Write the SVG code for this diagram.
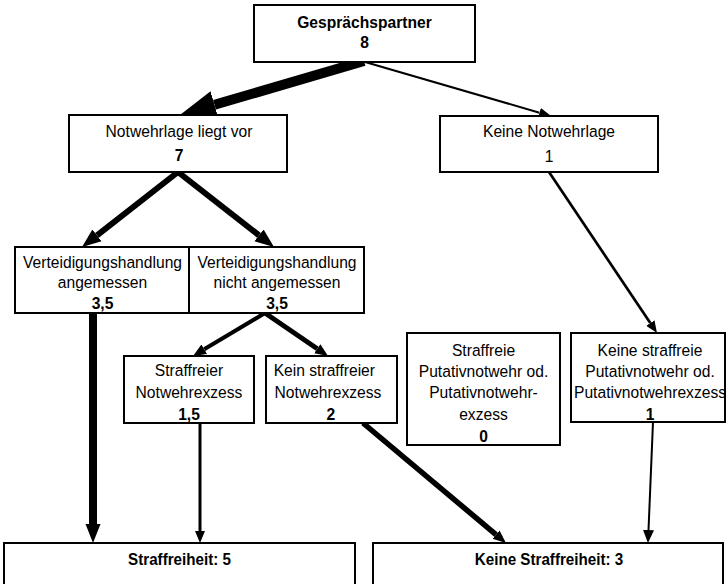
<svg xmlns="http://www.w3.org/2000/svg" width="726" height="584" viewBox="0 0 726 584">
  <style>
    .box { fill: #fff; stroke: #000; stroke-width: 2; }
    .lbl { font-family: "Liberation Sans", Arial, sans-serif; font-size: 17px; text-anchor: middle; fill: #000; }
    .num { font-weight: bold; }
    .res { font-weight: bold; font-size: 16.5px; }
    .edge { fill: none; stroke: #000; stroke-linecap: butt; }
  </style>
  <defs>
    <marker id="head-xl" markerUnits="userSpaceOnUse" markerWidth="40" markerHeight="32" viewBox="0 -16 40 32" refX="0" refY="0" orient="auto">
      <path d="M0,-14 L36,0 L0,14 Z" fill="#000"/>
    </marker>
    <marker id="head-lg" markerUnits="userSpaceOnUse" markerWidth="22" markerHeight="18" viewBox="0 -9 22 18" refX="0" refY="0" orient="auto">
      <path d="M0,-7.5 L19,0 L0,7.5 Z" fill="#000"/>
    </marker>
    <marker id="head-md" markerUnits="userSpaceOnUse" markerWidth="16" markerHeight="14" viewBox="0 -7 16 14" refX="0" refY="0" orient="auto">
      <path d="M0,-5.5 L13,0 L0,5.5 Z" fill="#000"/>
    </marker>
    <marker id="head-sm" markerUnits="userSpaceOnUse" markerWidth="14" markerHeight="12" viewBox="0 -6 14 12" refX="0" refY="0" orient="auto">
      <path d="M0,-5 L12,0 L0,5 Z" fill="#000"/>
    </marker>
  </defs>

  <rect width="726" height="584" fill="#fff"/>

  <g id="connectors">
    <path class="edge" d="M364,61 L214.5,104.8" stroke-width="10" marker-end="url(#head-xl)"/>
    <path class="edge" d="M365,62 L539.5,112.7" stroke-width="2" marker-end="url(#head-sm)"/>
    <path class="edge" d="M178,172 L97,235.3" stroke-width="6" marker-end="url(#head-lg)"/>
    <path class="edge" d="M178,172 L259,235.3" stroke-width="6" marker-end="url(#head-lg)"/>
    <path class="edge" d="M549,172 L650.3,323" stroke-width="2.7" marker-end="url(#head-sm)"/>
    <path class="edge" d="M93,313 L93,524" stroke-width="8" marker-end="url(#head-lg)"/>
    <path class="edge" d="M265,313 L204.2,349.3" stroke-width="4" marker-end="url(#head-md)"/>
    <path class="edge" d="M265,313 L317.3,348.7" stroke-width="5" marker-end="url(#head-md)"/>
    <path class="edge" d="M200,423 L200,531" stroke-width="3" marker-end="url(#head-sm)"/>
    <path class="edge" d="M363,423 L496,534.6" stroke-width="5.5" marker-end="url(#head-md)"/>
    <path class="edge" d="M653,422 L648.5,530" stroke-width="2" marker-end="url(#head-md)"/>
  </g>

  <g id="gespraechspartner">
    <rect class="box" x="254" y="5" width="221" height="57"/>
    <g transform="translate(364.5 0) scale(0.92 1)">
      <text class="lbl num" x="0" y="28">Gesprächspartner</text>
      <text class="lbl num" x="0" y="48">8</text>
    </g>
  </g>

  <g id="notwehrlage">
    <rect class="box" x="69" y="115" width="218" height="57"/>
    <g transform="translate(179 0) scale(0.92 1)">
      <text class="lbl" x="0" y="137">Notwehrlage liegt vor</text>
      <text class="lbl num" x="0" y="161">7</text>
    </g>
  </g>

  <g id="keine-notwehrlage">
    <rect class="box" x="440" y="116" width="218" height="56"/>
    <g transform="translate(549 0) scale(0.92 1)">
      <text class="lbl" x="0" y="137">Keine Notwehrlage</text>
      <text class="lbl" x="0" y="162">1</text>
    </g>
  </g>

  <g id="vh-angemessen">
    <rect class="box" x="15" y="247" width="174" height="66"/>
    <g transform="translate(102.5 0) scale(0.92 1)">
      <text class="lbl" x="0" y="268">Verteidigungshandlung</text>
      <text class="lbl" x="0" y="288">angemessen</text>
      <text class="lbl num" x="0" y="309">3,5</text>
    </g>
  </g>

  <g id="vh-nicht-angemessen">
    <rect class="box" x="189" y="247" width="175" height="66"/>
    <g transform="translate(277 0) scale(0.92 1)">
      <text class="lbl" x="0" y="268">Verteidigungshandlung</text>
      <text class="lbl" x="0" y="288">nicht angemessen</text>
      <text class="lbl num" x="0" y="309">3,5</text>
    </g>
  </g>

  <g id="straffreier-nwe">
    <rect class="box" x="124" y="356" width="130" height="67"/>
    <g transform="translate(189 0) scale(0.92 1)">
      <text class="lbl" x="0" y="376">Straffreier</text>
      <text class="lbl" x="0" y="398">Notwehrexzess</text>
      <text class="lbl num" x="0" y="420">1,5</text>
    </g>
  </g>

  <g id="kein-straffreier-nwe">
    <rect class="box" x="266" y="356" width="131" height="67"/>
    <g transform="translate(328 0) scale(0.92 1)">
      <text class="lbl" x="-4" y="376">Kein straffreier</text>
      <text class="lbl" x="0" y="398">Notwehrexzess</text>
      <text class="lbl num" x="3" y="420">2</text>
    </g>
  </g>

  <g id="straffreie-putativ">
    <rect class="box" x="407" y="333" width="153" height="112"/>
    <g transform="translate(483.5 0) scale(0.92 1)">
      <text class="lbl" x="0" y="356">Straffreie</text>
      <text class="lbl" x="0" y="377">Putativnotwehr od.</text>
      <text class="lbl" x="0" y="398">Putativnotwehr-</text>
      <text class="lbl" x="0" y="420">exzess</text>
      <text class="lbl num" x="0" y="442">0</text>
    </g>
  </g>

  <g id="keine-straffreie-putativ">
    <rect class="box" x="571" y="333" width="154" height="89"/>
    <g transform="translate(650 0) scale(0.92 1)">
      <text class="lbl" x="0" y="356">Keine straffreie</text>
      <text class="lbl" x="0" y="377">Putativnotwehr od.</text>
      <text class="lbl" x="0" y="398">Putativnotwehrexzess</text>
      <text class="lbl num" x="0" y="420">1</text>
    </g>
  </g>

  <g id="straffreiheit">
    <rect class="box" x="4" y="543" width="351" height="60"/>
    <g transform="translate(179.5 0) scale(0.92 1)">
      <text class="lbl res" x="0" y="565">Straffreiheit: 5</text>
    </g>
  </g>

  <g id="keine-straffreiheit">
    <rect class="box" x="373" y="543" width="350" height="60"/>
    <g transform="translate(549 0) scale(0.92 1)">
      <text class="lbl res" x="0" y="565">Keine Straffreiheit: 3</text>
    </g>
  </g>
</svg>
